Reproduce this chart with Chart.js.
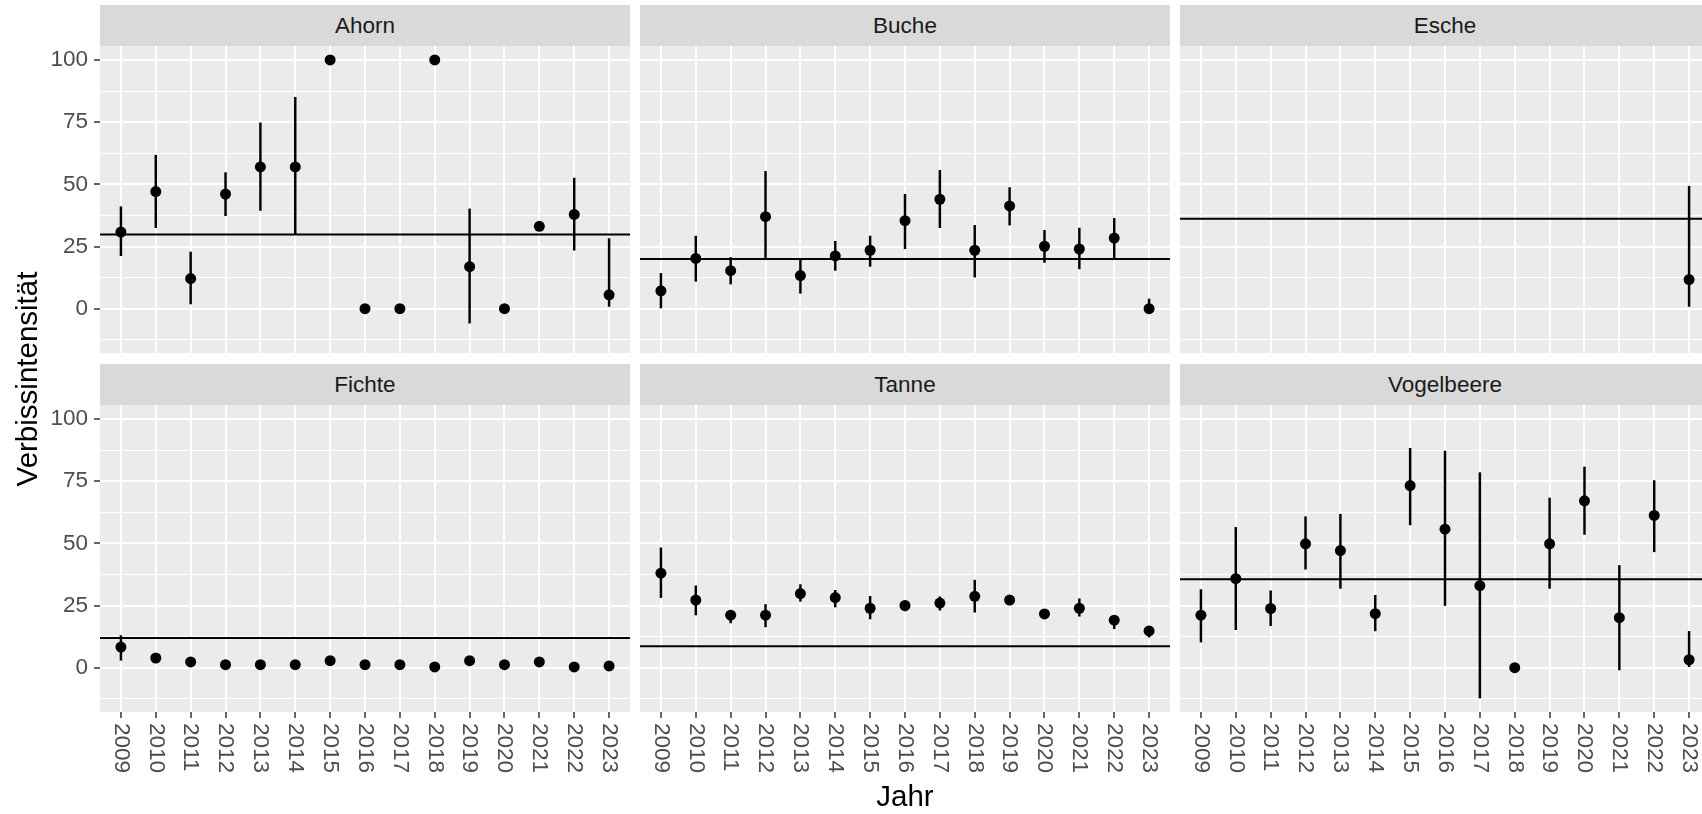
<!DOCTYPE html>
<html>
<head>
<meta charset="utf-8">
<script src="https://cdn.jsdelivr.net/npm/chart.js@4.4.0/dist/chart.umd.min.js"></script>
<style>
  body { margin: 0; width: 1702px; height: 814px; overflow: hidden; background: #fff; position: relative;
         font-family: "Liberation Sans", Arial, sans-serif; }
  canvas { position: absolute; }
  .strip { position: absolute; width: 530px; height: 41px; line-height: 41px; background: #D9D9D9;
           color: #1A1A1A; font-size: 22.5px; text-align: center; }
</style>
</head>
<body>
<script>
const years = [2009, 2010, 2011, 2012, 2013, 2014, 2015, 2016, 2017, 2018, 2019, 2020, 2021, 2022, 2023];
const species = ['Ahorn', 'Buche', 'Esche', 'Fichte', 'Tanne', 'Vogelbeere'];

const ahornMean = [30.8, 47.1, 12.1, 46.1, 57.0, 57.0, 100, 0, 0, 100, 16.9, 0, 33.1, 37.9, 5.6];
const ahornLow  = [21.3, 32.6, 1.9, 37.4, 39.5, 29.8, null, null, null, null, -5.8, null, null, 23.5, 0.9];
const ahornHigh = [41.0, 61.7, 22.8, 54.7, 74.7, 85.0, null, null, null, null, 40.1, null, null, 52.5, 28.2];

const bucheMean = [7.2, 20.2, 15.3, 37.0, 13.3, 21.2, 23.5, 35.4, 44.0, 23.5, 41.3, 25.1, 24.0, 28.4, 0];
const bucheLow  = [0.3, 11.0, 9.9, 20.0, 6.2, 15.4, 17.0, 24.1, 32.6, 12.7, 33.6, 18.6, 16.0, 20.0, 0];
const bucheHigh = [14.2, 29.2, 20.6, 55.2, 20.0, 27.1, 29.2, 46.0, 55.6, 33.5, 48.7, 31.5, 32.4, 36.3, 3.9];

const escheMean = [null, null, null, null, null, null, null, null, null, null, null, null, null, null, 11.7];
const escheLow  = [null, null, null, null, null, null, null, null, null, null, null, null, null, null, 0.9];
const escheHigh = [null, null, null, null, null, null, null, null, null, null, null, null, null, null, 49.2];

const fichteMean = [8.3, 3.9, 2.3, 1.2, 1.2, 1.2, 2.8, 1.2, 1.2, 0.3, 2.8, 1.2, 2.3, 0.3, 0.7];
const fichteLow  = [3.0, null, null, null, null, null, null, null, null, null, null, null, null, null, null];
const fichteHigh = [12.9, null, null, null, null, null, null, null, null, null, null, null, null, null, null];

const tanneMean = [38.0, 27.2, 21.1, 21.1, 29.8, 28.2, 23.9, 25.0, 26.0, 28.7, 27.2, 21.6, 23.9, 19.1, 14.8];
const tanneLow  = [28.2, 21.2, 18.0, 16.4, 26.7, 24.4, 19.6, 22.8, 23.1, 22.3, 25.5, 20.1, 20.7, 15.7, 12.3];
const tanneHigh = [48.2, 32.9, 23.1, 25.4, 33.4, 31.1, 28.7, 26.6, 28.5, 35.2, 28.7, 23.1, 27.7, 20.9, 16.6];

const vogelMean = [21.1, 35.8, 23.8, 49.8, 47.1, 21.7, 73.2, 55.7, 33.0, 0, 49.8, 67.1, 20.1, 61.2, 3.2];
const vogelLow  = [10.3, 15.3, 16.9, 39.6, 31.9, 14.8, 57.4, 25.0, -12.2, null, 31.9, 53.6, -0.9, 46.6, 0];
const vogelHigh = [31.4, 56.4, 30.9, 60.7, 61.7, 29.1, 88.2, 87.1, 78.4, null, 68.2, 80.7, 41.1, 75.2, 14.6];

// horizontal reference line per species
const overallMean = [29.8, 20.0, 36.2, 11.9, 8.6, 35.6];

const yMajor = [0, 25, 50, 75, 100];
const yMinor = [-12.5, 12.5, 37.5, 62.5, 87.5];

const means = [ahornMean, bucheMean, escheMean, fichteMean, tanneMean, vogelMean];
const lows = [ahornLow, bucheLow, escheLow, fichteLow, tanneLow, vogelLow];
const highs = [ahornHigh, bucheHigh, escheHigh, fichteHigh, tanneHigh, vogelHigh];

// ggplot style 5% expansion of the shared y range, 0.6 units on the discrete x axis
const allVals = [].concat(...means, ...lows, ...highs).filter(v => v != null);
const lo = Math.min(...allVals), hi = Math.max(...allVals);
const yMin = lo - (hi - lo) * 0.05, yMax = hi + (hi - lo) * 0.05;
const xMin = years[0] - 0.6, xMax = years[years.length - 1] + 0.6;

const PANEL_LEFT = [100, 640, 1180];
const PANEL_TOP = [46, 405];
const PW = 530, PH = 307;
const FONT = '"Liberation Sans", Arial, sans-serif';

Chart.defaults.font.family = FONT;

const panelBg = {
  id: 'panelBg',
  beforeDraw(chart) {
    const {ctx, chartArea: a} = chart;
    ctx.save();
    ctx.fillStyle = '#EBEBEB';
    ctx.fillRect(a.left, a.top, a.width, a.height);
    ctx.restore();
  }
};

const meanLine = {
  id: 'meanLine',
  beforeDatasetsDraw(chart, args, opts) {
    const {ctx, chartArea: a, scales: {y}} = chart;
    const py = y.getPixelForValue(opts.value);
    ctx.save();
    ctx.strokeStyle = '#000';
    ctx.lineWidth = 2;
    ctx.beginPath();
    ctx.moveTo(a.left, py);
    ctx.lineTo(a.right, py);
    ctx.stroke();
    ctx.restore();
  }
};

// year labels turned to read top-down, like ggplot's angle = -90
const yearLabels = {
  id: 'yearLabels',
  afterDraw(chart, args, opts) {
    if (!opts.display) return;
    const {ctx, scales: {x}} = chart;
    ctx.save();
    ctx.font = '22.5px ' + FONT;
    ctx.fillStyle = '#4D4D4D';
    ctx.textAlign = 'left';
    ctx.textBaseline = 'middle';
    x.ticks.forEach(t => {
      ctx.save();
      ctx.translate(x.getPixelForValue(t.value), x.top + 11);
      ctx.rotate(Math.PI / 2);
      ctx.fillText(String(t.value), 0, 0);
      ctx.restore();
    });
    ctx.restore();
  }
};

species.forEach((name, i) => {
  const col = i % 3, row = Math.floor(i / 3);
  const left = PANEL_LEFT[col], top = PANEL_TOP[row];

  const strip = document.createElement('div');
  strip.className = 'strip';
  strip.style.left = left + 'px';
  strip.style.top = (top - 41) + 'px';
  strip.textContent = name;

  const canvas = document.createElement('canvas');
  canvas.width = PW + 110;
  canvas.height = PH + 110;
  canvas.style.left = (left - 100) + 'px';
  canvas.style.top = (top - 30) + 'px';
  document.body.appendChild(canvas);
  document.body.appendChild(strip);

  const points = years.map((yr, k) => ({x: yr, y: means[i][k]})).filter(d => d.y != null);
  const bars = years.map((yr, k) => ({x: yr, y: [lows[i][k], highs[i][k]]})).filter(d => d.y[0] != null);

  new Chart(canvas, {
    type: 'scatter',
    data: {
      datasets: [
        {data: points, pointRadius: 5.5, pointHoverRadius: 5.5, backgroundColor: '#000', borderWidth: 0},
        {type: 'bar', data: bars, backgroundColor: '#000', borderWidth: 0, barThickness: 1.8, grouped: false}
      ]
    },
    options: {
      responsive: false,
      animation: false,
      devicePixelRatio: 1,
      layout: {padding: {top: 30, right: 10, left: 0, bottom: 0}},
      plugins: {
        legend: {display: false},
        tooltip: {enabled: false},
        meanLine: {value: overallMean[i]},
        yearLabels: {display: row === 1}
      },
      scales: {
        x: {
          type: 'linear', min: xMin, max: xMax, bounds: 'data', offset: false,
          afterBuildTicks: s => { s.ticks = years.map(v => ({value: v})); },
          afterFit: s => { s.height = 80; },
          border: {display: false},
          grid: {color: '#FFFFFF', lineWidth: 2, offset: false, drawTicks: row === 1,
                 tickLength: 6, tickWidth: 1.5, tickColor: '#333333'},
          ticks: {display: false}
        },
        y: {
          type: 'linear', min: yMin, max: yMax, bounds: 'data',
          afterBuildTicks: s => { s.ticks = yMinor.concat(yMajor).sort((a, b) => a - b).map(v => ({value: v})); },
          afterFit: s => { s.width = 100; },
          border: {display: false},
          grid: {
            color: '#FFFFFF',
            lineWidth: c => (c.tick && yMajor.includes(c.tick.value)) ? 2 : 1,
            drawTicks: col === 0,
            tickLength: 6,
            tickWidth: 1.5,
            tickColor: c => (c.tick && yMajor.includes(c.tick.value)) ? '#333333' : 'rgba(0,0,0,0)'
          },
          ticks: {
            display: col === 0, autoSkip: false, padding: 6, color: '#4D4D4D',
            font: {size: 22.5},
            callback: v => yMajor.includes(v) ? String(v) : ''
          }
        }
      }
    },
    plugins: [panelBg, meanLine, yearLabels]
  });
});

// shared axis titles on an overlay canvas
const overlay = document.createElement('canvas');
overlay.width = 1702;
overlay.height = 814;
overlay.style.left = '0px';
overlay.style.top = '0px';
document.body.appendChild(overlay);
const octx = overlay.getContext('2d');
octx.font = '29.5px ' + FONT;
octx.fillStyle = '#000';
octx.textAlign = 'center';
octx.textBaseline = 'alphabetic';
octx.fillText('Jahr', 905, 806);
octx.save();
octx.translate(37, 379);
octx.rotate(-Math.PI / 2);
octx.fillText('Verbissintensität', 0, 0);
octx.restore();
</script>
</body>
</html>
